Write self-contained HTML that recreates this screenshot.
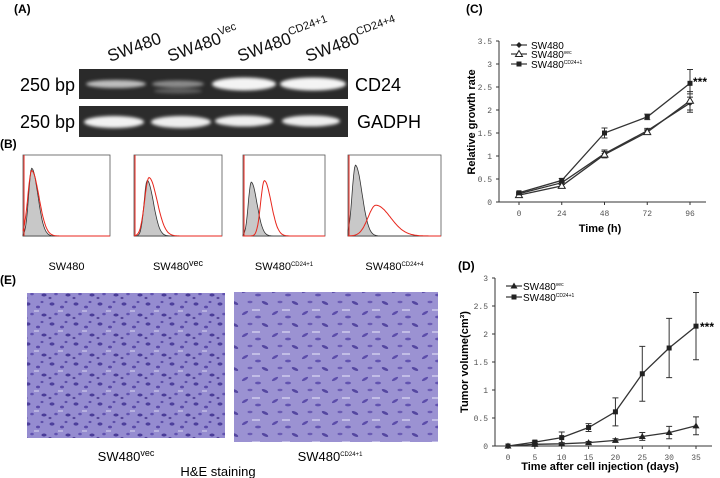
<!DOCTYPE html>
<html><head><meta charset="utf-8"><style>
html,body{margin:0;padding:0;background:#fff;}
svg{display:block;font-family:"Liberation Sans",Arial,sans-serif;}
</style></head><body>
<svg id="fig" width="720" height="478" viewBox="0 0 720 478" xmlns="http://www.w3.org/2000/svg">
<defs>
<filter id="blur" x="-20%" y="-100%" width="140%" height="300%"><feGaussianBlur stdDeviation="1.5"/></filter>
<pattern id="he" width="24" height="20" patternUnits="userSpaceOnUse">
<rect width="24" height="20" fill="#958cd0"/>
<ellipse cx="4" cy="4" rx="2.5" ry="1.6" fill="#4d3f9c"/>
<ellipse cx="14" cy="7" rx="2" ry="1.4" fill="#5a4aa8"/>
<ellipse cx="20" cy="15" rx="2.6" ry="1.5" fill="#4a3c98"/>
<ellipse cx="8" cy="14" rx="1.8" ry="1.3" fill="#6152b0"/>
<ellipse cx="18" cy="2" rx="1.5" ry="1.1" fill="#5d4eaa"/>
<ellipse cx="2" cy="18" rx="1.5" ry="1.1" fill="#554699"/>
<rect x="10" y="10" width="5" height="2" fill="#b7b1e0"/>
</pattern>
<pattern id="he2" width="30" height="22" patternUnits="userSpaceOnUse">
<rect width="30" height="22" fill="#9b92d2"/>
<ellipse cx="5" cy="5" rx="3.5" ry="1.3" fill="#5b4caa" transform="rotate(-30 5 5)"/>
<ellipse cx="18" cy="9" rx="3" ry="1.4" fill="#6253b0"/>
<ellipse cx="25" cy="17" rx="3.5" ry="1.4" fill="#5446a0" transform="rotate(25 25 17)"/>
<ellipse cx="10" cy="16" rx="2.5" ry="1.2" fill="#6a5bb4"/>
<rect x="12" y="1" width="8" height="2" fill="#c2bde6"/>
</pattern>
</defs>

<!-- Panel A -->
<text x="14" y="13" font-size="12" font-weight="bold">(A)</text>
<g font-size="17" fill="#111">
<text transform="translate(110,62) rotate(-20)">SW480</text>
<text transform="translate(170,62) rotate(-20)">SW480<tspan font-size="11" dy="-8">Vec</tspan></text>
<text transform="translate(240,62) rotate(-20)">SW480<tspan font-size="11" dy="-8">CD24+1</tspan></text>
<text transform="translate(308,62) rotate(-20)">SW480<tspan font-size="11" dy="-8">CD24+4</tspan></text>
</g>
<text x="20" y="91" font-size="18">250 bp</text>
<text x="20" y="128" font-size="18">250 bp</text>
<rect x="79" y="69" width="269" height="30" fill="#2a2a2a"/>
<rect x="79" y="106" width="269" height="31" fill="#2c2c2c"/>
<g filter="url(#blur)">
<ellipse cx="116" cy="84" rx="30" ry="4" fill="#bdbdbd"/>
<ellipse cx="178" cy="84" rx="26" ry="3.5" fill="#8a8a8a"/>
<ellipse cx="178" cy="91" rx="24" ry="2.5" fill="#606060"/>
<ellipse cx="244" cy="84" rx="32" ry="6.5" fill="#f4f4f4"/>
<ellipse cx="313" cy="84" rx="33" ry="6.5" fill="#f4f4f4"/>
<ellipse cx="114" cy="122" rx="30" ry="6" fill="#f2f2f2"/>
<ellipse cx="181" cy="122" rx="30" ry="6" fill="#eeeeee"/>
<ellipse cx="244" cy="121" rx="29" ry="5.5" fill="#eeeeee"/>
<ellipse cx="311" cy="121" rx="29" ry="5.5" fill="#eeeeee"/>
</g>
<text x="355" y="91" font-size="18">CD24</text>
<text x="357" y="128" font-size="18">GADPH</text>

<!-- Panel B -->
<text x="0" y="148" font-size="12" font-weight="bold">(B)</text>
<g id="hists"></g>

<!-- Panel E -->
<text x="0" y="284" font-size="12" font-weight="bold">(E)</text>
<rect x="27" y="293" width="198" height="145" fill="url(#he)"/>
<rect x="234" y="292" width="204" height="150" fill="url(#he2)"/>
<text x="126" y="461" font-size="13" text-anchor="middle">SW480<tspan font-size="9" dy="-5">vec</tspan></text>
<text x="330" y="461" font-size="13" text-anchor="middle">SW480<tspan font-size="6" dy="-5">CD24+1</tspan></text>
<text x="218" y="476" font-size="13" text-anchor="middle">H&amp;E staining</text>

<!-- Panel C -->
<text x="466" y="13" font-size="12" font-weight="bold">(C)</text>
<g id="chartC"></g>
<!-- Panel D -->
<text x="458" y="270" font-size="12" font-weight="bold">(D)</text>
<g id="chartD"></g>
</svg>
<script>
// ---- Panel C data ----
const cTimes = [0, 24, 48, 72, 96];
const cYTicks = [0, 0.5, 1, 1.5, 2, 2.5, 3, 3.5];
const cSW480 = [0.18, 0.42, 1.05, 1.55, 2.15];
const cVec = [0.15, 0.35, 1.03, 1.52, 2.2];
const cCD24 = [0.2, 0.47, 1.5, 1.85, 2.58];
const cErrSW480 = [0.02, 0.04, 0.08, 0.05, 0.2];
const cErrVec = [0.02, 0.03, 0.07, 0.05, 0.2];
const cErrCD24 = [0.02, 0.04, 0.11, 0.06, 0.3];
// ---- Panel D data ----
const dDays = [0, 5, 10, 15, 20, 25, 30, 35];
const dYTicks = [0, 0.5, 1, 1.5, 2, 2.5, 3];
const dVec = [0, 0.03, 0.04, 0.06, 0.1, 0.17, 0.24, 0.36];
const dErrVec = [0, 0.01, 0.02, 0.02, 0.03, 0.07, 0.11, 0.16];
const dCD24 = [0, 0.07, 0.15, 0.33, 0.61, 1.29, 1.75, 2.14];
const dErrCD24 = [0, 0.02, 0.1, 0.07, 0.25, 0.49, 0.53, 0.6];
// ---- Panel B data (histogram peaks: position 0-1 on log axis, height 0-1, width) ----
const bNames = ["SW480", "SW480vec", "SW480CD24+1", "SW480CD24+4"];
const bGrayPeak = [0.1, 0.15, 0.1, 0.08];
const bGrayHeight = [0.88, 0.72, 0.7, 0.92];
const bRedPeak = [0.1, 0.17, 0.26, 0.3];
const bRedHeight = [0.85, 0.76, 0.72, 0.4];
const bRedWidth = [0.09, 0.1, 0.09, 0.17];

const NS = "http://www.w3.org/2000/svg";
function mk(parent, tag, attrs, text) {
  const e = document.createElementNS(NS, tag);
  for (const k in attrs) e.setAttribute(k, attrs[k]);
  if (text !== undefined) e.textContent = text;
  parent.appendChild(e);
  return e;
}

// Panel B histograms
(function () {
  const g = document.getElementById("hists");
  const boxes = [[23, 110], [134, 222], [243, 325], [348, 441]];
  const top = 155, bot = 236;
  boxes.forEach((b, i) => {
    const [x0, x1] = b;
    const w = x1 - x0, h = bot - top;
    const frame = mk(g, "rect", { x: x0, y: top, width: w, height: h, fill: "#fff", stroke: "#555", "stroke-width": 0.8 });
    
    
    const sx = t => x0 + t * w;
    const sy = v => bot - v * h * 0.95;
    let gp = "M" + x0 + "," + bot;
    let rp = "";
    for (let k = 0; k <= 100; k++) {
      const t = k / 100;
      const dg = (t - bGrayPeak[i]) / (t < bGrayPeak[i] ? 0.05 : 0.1);
      const vg = bGrayHeight[i] * Math.exp(-dg * dg);
      gp += " L" + sx(t).toFixed(1) + "," + sy(vg).toFixed(1);
      const dr = (t - bRedPeak[i]) / (t < bRedPeak[i] ? bRedWidth[i] * 0.7 : bRedWidth[i] * 1.3);
      const vr = bRedHeight[i] * Math.exp(-dr * dr);
      rp += (k ? " L" : "M") + sx(t).toFixed(1) + "," + sy(vr).toFixed(1);
    }
    gp += " L" + x1 + "," + bot + " Z";
    const gh = mk(g, "path", { d: gp, fill: "#c8c8c8", stroke: "#333", "stroke-width": 0.8 });
    
    
    const rh = mk(g, "path", { d: rp, fill: "none", stroke: "#e8261c", "stroke-width": 1 });
    
    
    const rl = mk(g, "line", { x1: x0 + 1, y1: top, x2: x0 + 1, y2: bot, stroke: "#e8261c", "stroke-width": 1 });
    
    
    const base = bNames[i].slice(0, 5);
    const sup = bNames[i].slice(5);
    const lab = mk(g, "text", { x: (x0 + x1) / 2, y: 270, "font-size": 11, "text-anchor": "middle" }, base);
    if (sup) { mk(lab, "tspan", { "font-size": i === 1 ? 9 : 6, dy: -4 }, sup); }
    
    
  });
})();

function drawChart(gid, opt) {
  const g = document.getElementById(gid);
  const { x0, xEnd, yBase, xs, xv0, xv1, xp0, xp1, yt, ymax, ytop } = opt;
  const X = v => xp0 + (v - xv0) / (xv1 - xv0) * (xp1 - xp0);
  const Y = v => yBase - v / ymax * (yBase - ytop);
  const ax = mk(g, "path", { d: `M${x0},${ytop} L${x0},${yBase} L${xEnd},${yBase}`, fill: "none", stroke: "#333", "stroke-width": 1 });
  
  
  yt.forEach(v => {
    const t = mk(g, "line", { x1: x0 - 3, y1: Y(v), x2: x0, y2: Y(v), stroke: "#333" });
    
    
    const l = mk(g, "text", { x: x0 - 7, y: Y(v) + 3, "font-size": 8, "text-anchor": "end", fill: "#555", "font-family": "Liberation Mono,monospace" }, String(v));
    
    
  });
  xs.forEach(v => {
    const t = mk(g, "line", { x1: X(v), y1: yBase, x2: X(v), y2: yBase + 3, stroke: "#333" });
    
    
    const l = mk(g, "text", { x: X(v), y: yBase + 14, "font-size": 8, "text-anchor": "middle", fill: "#555", "font-family": "Liberation Mono,monospace" }, String(v));
    
    
  });
  opt.series.forEach(s => {
    let d = "";
    xs.forEach((v, i) => { d += (i ? " L" : "M") + X(v).toFixed(1) + "," + Y(s.vals[i]).toFixed(1); });
    const p = mk(g, "path", { d, fill: "none", stroke: "#333", "stroke-width": 1.3 });
    
    
    xs.forEach((v, i) => {
      const e = s.err[i];
      if (e > 0) {
        const eb = mk(g, "path", { d: `M${X(v)},${Y(s.vals[i] + e)} L${X(v)},${Y(s.vals[i] - e)} M${X(v) - 3},${Y(s.vals[i] + e)} h6 M${X(v) - 3},${Y(s.vals[i] - e)} h6`, stroke: "#333", "stroke-width": 1, fill: "none" });
        
        
      }
      const m = markerAt(g, s.marker, X(v), Y(s.vals[i]));
      
      
    });
  });
}
function markerAt(g, type, x, y) {
  if (type === "square") return mk(g, "rect", { x: x - 2.5, y: y - 2.5, width: 5, height: 5, fill: "#222" });
  if (type === "diamond") return mk(g, "path", { d: `M${x},${y - 3} L${x + 3},${y} L${x},${y + 3} L${x - 3},${y} Z`, fill: "#222" });
  if (type === "tri-open") return mk(g, "path", { d: `M${x},${y - 3.5} L${x + 3.5},${y + 2.5} L${x - 3.5},${y + 2.5} Z`, fill: "#fff", stroke: "#222" });
  return mk(g, "path", { d: `M${x},${y - 3.5} L${x + 3.5},${y + 2.5} L${x - 3.5},${y + 2.5} Z`, fill: "#222" });
}

drawChart("chartC", {
  x0: 499, xEnd: 706, yBase: 202, ytop: 41, ymax: 3.5, yt: cYTicks,
  xs: cTimes, xv0: 0, xv1: 96, xp0: 519, xp1: 690,
  series: [
    { name: "sw480", vals: cSW480, err: cErrSW480, marker: "diamond" },
    { name: "sw480-vec", vals: cVec, err: cErrVec, marker: "tri-open" },
    { name: "sw480-cd24", vals: cCD24, err: cErrCD24, marker: "square" }
  ]
});
drawChart("chartD", {
  x0: 495, xEnd: 712, yBase: 446, ytop: 278, ymax: 3, yt: dYTicks,
  xs: dDays, xv0: 0, xv1: 35, xp0: 508, xp1: 696,
  series: [
    { name: "sw480-vec", vals: dVec, err: dErrVec, marker: "tri" },
    { name: "sw480-cd24", vals: dCD24, err: dErrCD24, marker: "square" }
  ]
});

// Legends, titles, significance
(function () {
  const svg = document.getElementById("fig");
  const add = (tag, a, t, name) => { const e = mk(svg, tag, a, t);   return e; };
  [["diamond", "", 45], ["tri-open", "vec", 54], ["square", "CD24+1", 64]].forEach((l) => {
    add("line", { x1: 511, y1: l[2], x2: 527, y2: l[2], stroke: "#333", "stroke-width": 1.2 }, undefined, "legend-line");
    const m = markerAt(svg, l[0], 519, l[2]);
    
    
    const t = add("text", { x: 531, y: l[2] + 4, "font-size": 10 }, "SW480", "legend-entry");
    if (l[1]) mk(t, "tspan", { "font-size": 5, dy: -4 }, l[1]);
  });
  add("text", { x: 693, y: 86, "font-size": 12, "font-weight": "bold" }, "***", "significance-c");
  add("text", { x: 600, y: 232, "font-size": 11, "font-weight": "bold", "text-anchor": "middle" }, "Time (h)", "x-axis-title-c");
  add("text", { x: 475, y: 122, "font-size": 11, "font-weight": "bold", "text-anchor": "middle", transform: "rotate(-90 475 122)" }, "Relative growth rate", "y-axis-title-c");
  [["tri", "vec", 286], ["square", "CD24+1", 297]].forEach(l => {
    add("line", { x1: 506, y1: l[2], x2: 522, y2: l[2], stroke: "#333", "stroke-width": 1.2 }, undefined, "legend-line");
    const m = markerAt(svg, l[0], 514, l[2]);
    
    
    const t = add("text", { x: 523, y: l[2] + 4, "font-size": 10 }, "SW480", "legend-entry");
    mk(t, "tspan", { "font-size": 5, dy: -4 }, l[1]);
  });
  add("text", { x: 700, y: 331, "font-size": 12, "font-weight": "bold" }, "***", "significance-d");
  add("text", { x: 600, y: 470, "font-size": 11, "font-weight": "bold", "text-anchor": "middle" }, "Time after cell injection (days)", "x-axis-title-d");
  add("text", { x: 468, y: 362, "font-size": 11, "font-weight": "bold", "text-anchor": "middle", transform: "rotate(-90 468 362)" }, "Tumor volume(cm³)", "y-axis-title-d");
})();
</script>
</body></html>
